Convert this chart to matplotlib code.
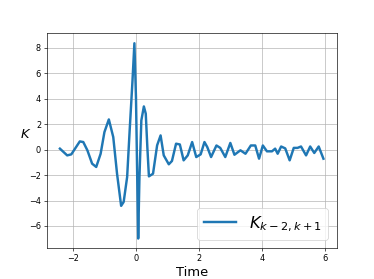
import matplotlib
matplotlib.use("Agg")
import matplotlib.pyplot as plt

time = [-2.41, -2.18, -2.05, -1.78, -1.67, -1.54, -1.39, -1.26, -1.12, -1.0,
        -0.86, -0.72, -0.6, -0.47, -0.39, -0.28, -0.2, -0.11, -0.05, 0.0,
        0.07, 0.11, 0.17, 0.25, 0.31, 0.36, 0.41, 0.54, 0.67, 0.78,
        0.88, 1.04, 1.14, 1.27, 1.39, 1.51, 1.64, 1.78, 1.91, 2.05,
        2.17, 2.26, 2.38, 2.55, 2.67, 2.83, 2.99, 3.12, 3.31, 3.47,
        3.64, 3.78, 3.9, 4.02, 4.15, 4.31, 4.41, 4.49, 4.6, 4.73,
        4.87, 5.0, 5.12, 5.23, 5.39, 5.52, 5.65, 5.79, 5.94]
k_values = [0.08, -0.45, -0.37, 0.65, 0.6, -0.05, -1.1, -1.36, -0.32, 1.38,
            2.38, 0.99, -1.89, -4.42, -4.11, -2.15, 1.52, 5.44, 8.37, 4.1,
            -6.99, -2.15, 2.3, 3.4, 2.83, 0.2, -2.1, -1.89, 0.34, 1.12,
            -0.45, -1.15, -0.89, 0.47, 0.41, -0.84, -0.45, 0.6, -0.58, -0.37,
            0.6, 0.2, -0.58, 0.33, 0.14, -0.58, 0.53, -0.4, -0.05, -0.32,
            0.33, 0.33, -0.71, 0.33, -0.13, -0.13, 0.08, -0.32, 0.25, 0.1,
            -0.84, 0.14, 0.14, 0.25, -0.45, 0.25, -0.26, 0.25, -0.71]

dpi = 58.44
fig, ax = plt.subplots(figsize=(374 / dpi, 279 / dpi), dpi=dpi)
ax.plot(time, k_values, color="#1f77b4", linewidth=3, label=r"$K_{k-2,k+1}$")
ax.grid(True, color="#b0b0b0", linewidth=0.8)
ax.set_xlabel("Time", fontsize=16)
ax.set_ylabel(r"$K$", fontsize=16, rotation=0)
ax.set_xticks([-2, 0, 2, 4, 6])
ax.set_yticks([-6, -4, -2, 0, 2, 4, 6, 8])
ax.tick_params(labelsize=10)
ax.legend(loc="lower right", fontsize=20)
fig.savefig("out.png", dpi=dpi)
